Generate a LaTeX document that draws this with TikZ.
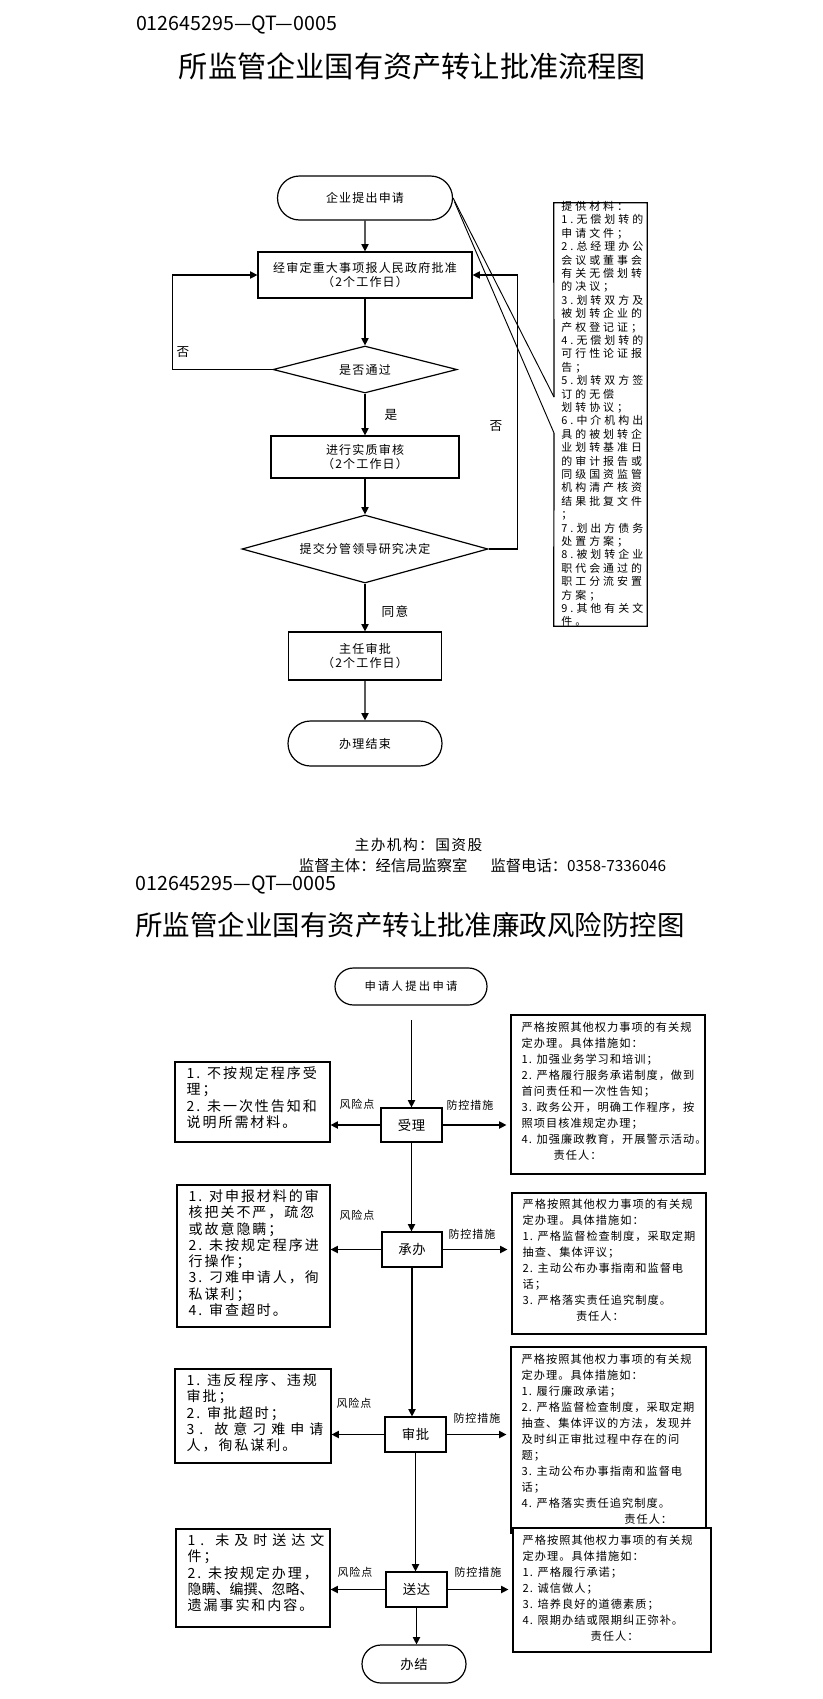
\documentclass[tikz,border=0pt]{standalone}
\usepackage{graphicx}
\usepackage{fontspec}
\setmainfont{Noto Sans CJK SC}
\newfontfamily\fa[LetterSpace=10]{Noto Sans CJK SC}
\newfontfamily\fnote[LetterSpace=28]{Noto Sans CJK SC}
\newfontfamily\fmeas[LetterSpace=9]{Noto Sans CJK SC}
\newfontfamily\frisk[LetterSpace=14]{Noto Sans CJK SC}
\newfontfamily\friskw[LetterSpace=36]{Noto Sans CJK SC}
\newfontfamily\friskn{Noto Sans CJK SC}
\newfontfamily\flab[LetterSpace=9]{Noto Sans CJK SC}
\newfontfamily\fmid[LetterSpace=5]{Noto Sans CJK SC}
\newfontfamily\fstart[LetterSpace=20]{Noto Sans CJK SC}
\usetikzlibrary{arrows.meta,shapes.misc,shapes.geometric}
\newcommand\tightlines{\lineskiplimit=-50pt\lineskip=0pt}
\newcommand\fsTop{\fa\fontsize{9pt}{10pt}\selectfont\tightlines}
\newcommand\fsNote{\fnote\fontsize{8.2pt}{10.05pt}\selectfont\tightlines}
\newcommand\fsMeas{\fmeas\fontsize{8.4pt}{12pt}\selectfont\tightlines}
\newcommand\fsRisk{\frisk\fontsize{10.5pt}{12.2pt}\selectfont\tightlines}
\newcommand\fsLab{\flab\fontsize{8.25pt}{10pt}\selectfont}
\newcommand\fsMid{\fmid\fontsize{10pt}{12pt}\selectfont}
\newcommand\fsStart{\fstart\fontsize{8.5pt}{10pt}\selectfont}
\tikzset{
  ln/.style={line width=0.9pt, draw=black},
  thinln/.style={line width=0.7pt, draw=black},
  arr/.style={ln, -{Triangle[length=5.5pt,width=5.5pt]}},
  rbox/.style 2 args={draw, fill=white, line width=0.9pt, rectangle, inner sep=0pt,
     minimum width=#1*0.75pt, minimum height=#2*0.75pt},
  tbox/.style 2 args={draw, fill=white, line width=0.9pt, rounded rectangle, inner sep=0pt,
     minimum width=#1*0.75pt, minimum height=#2*0.75pt},
  dbox/.style n args={3}{draw, fill=white, line width=0.9pt, diamond, aspect=#3, inner sep=0pt,
     minimum width=#1*0.75pt, minimum height=#2*0.75pt},
  txt/.style={anchor=north west, inner sep=0pt, align=left},
  lab/.style={inner sep=0pt, font=\fsLab},
  flab/.style={inner sep=0pt, font=\fa\fontsize{9.5pt}{11pt}\selectfont},
}
\begin{document}
\begin{tikzpicture}[x=0.75pt,y=-0.75pt]
\useasboundingbox (0,0) rectangle (823,1699);
\fill[white] (0,0) rectangle (823,1699);

% ---------------- header 1 ----------------
\node[inner sep=0pt] (hdr1) at (236.5,24.5) {\resizebox{150.75pt}{!}{012645295—QT—0005}};
\node[inner sep=0pt, font=\fontsize{21.9pt}{24pt}\selectfont] (title1) at (412.5,66) {所监管企业国有资产转让批准流程图};

% ---------------- flowchart 1 ----------------
\node[tbox={175}{44}, font=\fsTop] (t1) at (365,198) {企业提出申请};
\node[rbox={214}{46}, font=\fsTop, align=center] (b1) at (365,275) {经审定重大事项报人民政府批准\\（2个工作日）};
\node[dbox={184}{47}{3.9}, font=\fsTop] (d1) at (365,369.5) {是否通过};
\node[rbox={188}{42}, font=\fsTop, align=center] (b2) at (365,457) {进行实质审核\\（2个工作日）};
\node[dbox={246}{68}{3.6}, font=\fsTop] (d2) at (365,549) {提交分管领导研究决定};
\node[rbox={153}{48}, font=\fsTop, align=center] (b3) at (365,656) {主任审批\\（2个工作日）};
\node[tbox={154}{45}, font=\fsTop] (t2) at (365,743.5) {办理结束};

\draw[arr] (t1) -- (b1);
\draw[arr] (b1) -- (d1);
\draw[arr] (d1) -- (b2);
\draw[arr] (b2) -- (d2);
\draw[arr] (d2) -- (b3);
\draw[arr] (b3) -- (t2);
\draw[arr] (d1.west) -- ++(-100,0) |- (b1.west);
\draw[arr] (d2.east) -- ++(29,0) |- (b1.east);

\node[flab] (lno1) at (183,352) {否};
\node[flab] (lyes) at (391,415) {是};
\node[flab] (lno2) at (496,426) {否};
\node[flab] (lagr) at (395,612) {同意};

% note (callout)
\node[inner sep=0pt, minimum width=93*0.75pt, minimum height=423*0.75pt] (note) at (600.5,414.5) {};
\coordinate (c1) at (554,397);
\coordinate (c2) at (554,433);
\draw[ln] (c1) -- (note.north west) -- (note.north east) -- (note.south east) -- (note.south west) -- (c2);
\draw[thinln] (t1.east) -- (c1);
\draw[thinln] ([shift={(1.5,4)}]t1.east) -- (c2);
\node[txt, font=\fsNote] (notetxt) at (561,201) {提供材料：\\1.无偿划转的\\申请文件；\\2.总经理办公\\会议或董事会\\有关无偿划转\\的决议；\\3.划转双方及\\被划转企业的\\产权登记证；\\4.无偿划转的\\可行性论证报\\告；\\5.划转双方签\\订的无偿\\划转协议；\\6.中介机构出\\具的被划转企\\业划转基准日\\的审计报告或\\同级国资监管\\机构清产核资\\结果批复文件\\；\\7.划出方债务\\处置方案；\\8.被划转企业\\职代会通过的\\职工分流安置\\方案；\\9.其他有关文\\件。};

% footer
\node[inner sep=0pt, font=\fa\fontsize{11pt}{13pt}\selectfont] (foot1) at (418.5,845) {主办机构：国资股};
\node[inner sep=0pt] (foot2) at (482.5,866) {\resizebox{275.25pt}{!}{监督主体：经信局监察室\hspace{1.5em}监督电话：0358-7336046}};

% ---------------- header 2 ----------------
\node[inner sep=0pt] (hdr2) at (236,885) {\resizebox{150.75pt}{!}{012645295—QT—0005}};
\node[inner sep=0pt, font=\fontsize{20.6pt}{23pt}\selectfont] (title2) at (410,925) {所监管企业国有资产转让批准廉政风险防控图};

% ---------------- flowchart 2 ----------------
\node[tbox={152}{37}, font=\fsStart] (s0) at (411,986.5) {申请人提出申请};
\coordinate (a0) at (411.5,1020);

\node[rbox={61}{34}, font=\fsMid] (n1) at (411.5,1125) {受理};
\node[rbox={155}{80}] (r1) at (252.5,1102) {};
\node[rbox={194}{159}] (m1) at (608,1094.5) {};

\node[rbox={60}{35}, font=\fsMid] (n2) at (412,1249.5) {承办};
\node[rbox={153}{142}] (r2) at (253.5,1256) {};
\node[rbox={194}{141}] (m2) at (609,1263.5) {};

\node[rbox={61}{35}, font=\fsMid] (n3) at (415.5,1434.5) {审批};
\node[rbox={156}{94}] (r3) at (253,1416) {};
\node[rbox={195}{186}] (m3) at (608.5,1440) {};

\node[rbox={61}{35}, font=\fsMid] (n4) at (416.5,1589.5) {送达};
\node[rbox={154}{98}] (r4) at (253,1578) {};
\node[rbox={198}{124}] (m4) at (612,1590) {};

\node[tbox={104}{38}, font=\fsMid] (e2) at (414,1664) {办结};

% connectors
\draw[arr] (a0) -- (n1);
\draw[arr] (n1.south) -- (n1.south |- n2.north);
\draw[arr] (n2.south) -- (n2.south |- n3.north);
\draw[arr] (n3.south) -- (n3.south |- n4.north);
\draw[arr] (n4.south) -- (n4.south |- e2.north);
\foreach \n/\r/\m in {n1/r1/m1, n2/r2/m2, n3/r3/m3, n4/r4/m4}{
  \draw[arr] (\n.west) -- (\r.east |- \n.west);
  \draw[arr] (\n.east) -- ([xshift=-3pt]\m.west |- \n.east);
}

% labels
\node[lab] (k1) at (357,1104) {风险点};
\node[lab] (p1) at (470,1105) {防控措施};
\node[lab] (k2) at (357,1215) {风险点};
\node[lab] (p2) at (472,1234) {防控措施};
\node[lab] (k3) at (354,1403) {风险点};
\node[lab] (p3) at (477,1418) {防控措施};
\node[lab] (k4) at (355,1572) {风险点};
\node[lab] (p4) at (478,1572) {防控措施};

% risk texts
\node[txt, font=\fsRisk] (r1t) at ([shift={(12,5)}]r1.north west) {1. 不按规定程序受\\理；\\2. 未一次性告知和\\说明所需材料。};
\node[txt, font=\fsRisk] (r2t) at ([shift={(12,5)}]r2.north west) {1. 对申报材料的审\\核把关不严，疏忽\\或故意隐瞒；\\2. 未按规定程序进\\行操作；\\3. 刁难申请人，徇\\私谋利；\\4. 审查超时。};
\node[txt, font=\fsRisk] (r3t) at ([shift={(12,5)}]r3.north west) {1. 违反程序、违规\\审批；\\2. 审批超时；\\{\friskw 3. 故意刁难申请}\\人，徇私谋利。};
\node[txt, font=\fsRisk] (r4t) at ([shift={(12,5)}]r4.north west) {{\friskw 1. 未及时送达文}\\件；\\2. 未按规定办理，\\{\friskn 隐瞒、编撰、忽略、}\\遗漏事实和内容。};

% measure texts
\node[txt, font=\fsMeas] (m1t) at ([shift={(11,7)}]m1.north west) {严格按照其他权力事项的有关规\\定办理。具体措施如：\\1. 加强业务学习和培训；\\2. 严格履行服务承诺制度，做到\\首问责任和一次性告知；\\3. 政务公开，明确工作程序，按\\照项目核准规定办理；\\4. 加强廉政教育，开展警示活动。\\\hspace*{24pt}责任人：};
\node[txt, font=\fsMeas] (m2t) at ([shift={(11,6)}]m2.north west) {严格按照其他权力事项的有关规\\定办理。具体措施如：\\1. 严格监督检查制度，采取定期\\抽查、集体评议；\\2. 主动公布办事指南和监督电\\话；\\3. 严格落实责任追究制度。\\\hspace*{40pt}责任人：};
\node[txt, font=\fsMeas] (m3t) at ([shift={(11,7)}]m3.north west) {严格按照其他权力事项的有关规\\定办理。具体措施如：\\1. 履行廉政承诺；\\2. 严格监督检查制度，采取定期\\抽查、集体评议的方法，发现并\\及时纠正审批过程中存在的问\\题；\\3. 主动公布办事指南和监督电\\话；\\4. 严格落实责任追究制度。\\\hspace*{77pt}责任人：};
\node[txt, font=\fsMeas] (m4t) at ([shift={(10,7)}]m4.north west) {严格按照其他权力事项的有关规\\定办理。具体措施如：\\1. 严格履行承诺；\\2. 诚信做人；\\3. 培养良好的道德素质；\\4. 限期办结或限期纠正弥补。\\\hspace*{51pt}责任人：};
\end{tikzpicture}
\end{document}
